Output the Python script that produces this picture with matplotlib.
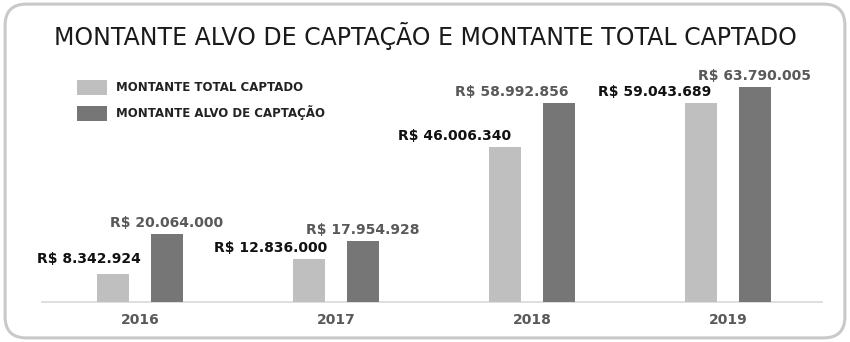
import matplotlib
matplotlib.use("Agg")
import matplotlib.pyplot as plt
from matplotlib.patches import FancyBboxPatch, Patch
import numpy as np

# Data
anos = ["2016", "2017", "2018", "2019"]
total_captado = [8342924, 12836000, 46006340, 59043689]
alvo_captacao = [20064000, 17954928, 58992856, 63790005]
rotulos_total = ["R$ 8.342.924", "R$ 12.836.000", "R$ 46.006.340", "R$ 59.043.689"]
rotulos_alvo = ["R$ 20.064.000", "R$ 17.954.928", "R$ 58.992.856", "R$ 63.790.005"]

c_light = "#bfbfbf"
c_dark = "#767676"

fig = plt.figure(figsize=(8.5, 3.42), dpi=100)
fig.patch.set_facecolor("white")

# rounded frame
frame = FancyBboxPatch((0.006, 0.012), 0.988, 0.976, boxstyle="round,pad=0,rounding_size=0.025",
                       transform=fig.transFigure, facecolor="none", edgecolor="#c9c9c9",
                       linewidth=2.2, mutation_aspect=850 / 342, zorder=-1)
fig.patches.append(frame)

ax = fig.add_axes([42 / 850, 1 - 302 / 342, (822 - 42) / 850, 242 / 342])
ax.patch.set_alpha(0)

x = np.arange(len(anos))
w = 0.163
off = 0.138
ax.bar(x - off, [v / 1e6 for v in total_captado], w, color=c_light, zorder=3)
ax.bar(x + off, [v / 1e6 for v in alvo_captacao], w, color=c_dark, zorder=3)

ax.set_xlim(-0.5, 3.48)
ax.set_ylim(0, 71.8)

# value labels (hand-nudged like the original)
nudge_total = [(8.3, 5.6), (1.6, 3), (-7, 3), (-4, 3)]
nudge_alvo = [(0, 3), (0, 3), (-34, 3), (0, 3)]
for i in range(len(anos)):
    ax.annotate(rotulos_total[i], xy=(x[i] - off + w / 2, total_captado[i] / 1e6),
                xytext=nudge_total[i], textcoords="offset points",
                ha="right", va="bottom", fontsize=10, fontweight="bold", color="#111111")
    ax.annotate(rotulos_alvo[i], xy=(x[i] + off, alvo_captacao[i] / 1e6),
                xytext=nudge_alvo[i], textcoords="offset points",
                ha="center", va="bottom", fontsize=10, fontweight="bold", color="#595959")

ax.set_xticks(x)
ax.set_xticklabels(anos, fontsize=10, fontweight="bold", color="#595959")
ax.tick_params(axis="x", length=0, pad=8)
ax.set_yticks([])
for s in ["top", "right", "left"]:
    ax.spines[s].set_visible(False)
ax.spines["bottom"].set_color("#d9d9d9")
ax.spines["bottom"].set_linewidth(1.2)

fig.text(0.5, 1 - 36 / 342, "MONTANTE ALVO DE CAPTAÇÃO E MONTANTE TOTAL CAPTADO",
         ha="center", va="center", fontsize=17, color="#1a1a1a")

handles = [Patch(facecolor=c_light, label="MONTANTE TOTAL CAPTADO"),
           Patch(facecolor=c_dark, label="MONTANTE ALVO DE CAPTAÇÃO")]
fig.legend(handles=handles, loc="upper left", bbox_to_anchor=(66 / 850, 1 - 69 / 342),
           frameon=False, prop={"weight": "bold", "size": 8.5},
           handlelength=2.6, handleheight=1.6, handletextpad=0.7, labelspacing=0.9,
           labelcolor="#222222")

fig.savefig("out.png", dpi=100)
